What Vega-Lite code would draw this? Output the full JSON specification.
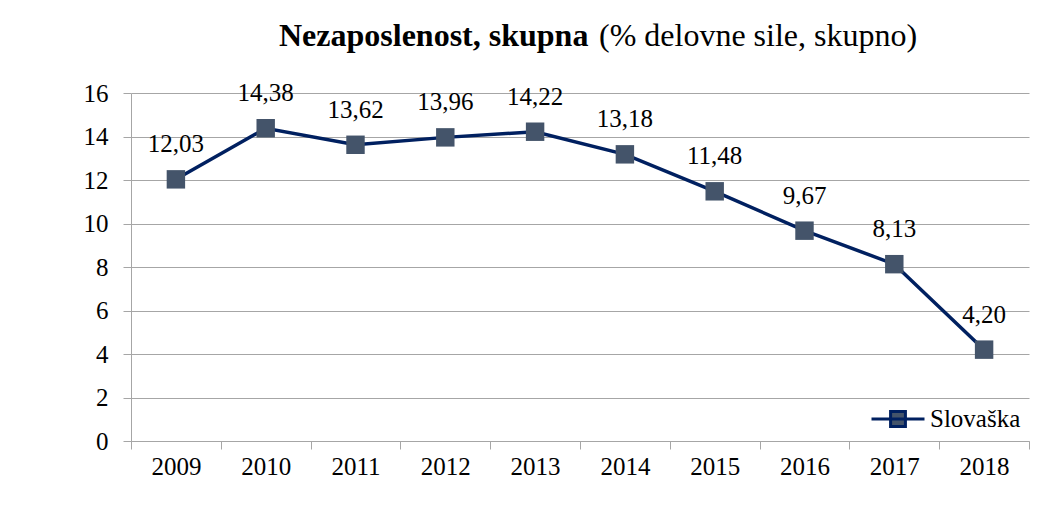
{
  "$schema": "https://vega.github.io/schema/vega-lite/v6.json",
  "width": 898,
  "height": 348,
  "autosize": {"type": "none"},
  "padding": {"left": 131, "top": 93, "right": 14, "bottom": 67},
  "background": "white",
  "config": {
    "font": "Liberation Serif",
    "view": {"stroke": null},
    "locale": {"number": {"decimal": ",", "thousands": ".", "grouping": [3], "currency": ["", " €"]}}
  },
  "title": {
    "text": "Nezaposlenost, skupna",
    "subtitle": "\u200b\u00a0\u00a0\u00a0\u00a0\u00a0\u00a0\u00a0\u00a0\u00a0\u00a0\u00a0\u00a0\u00a0\u00a0\u00a0\u00a0\u00a0\u00a0\u00a0\u00a0\u00a0\u00a0\u00a0\u00a0\u00a0\u00a0\u00a0\u00a0\u00a0\u00a0\u00a0\u00a0\u00a0\u00a0\u00a0\u00a0\u00a0\u00a0\u00a0\u00a0(% delovne sile, skupno)",
    "anchor": "start",
    "frame": "group",
    "dx": 148,
    "font": "Liberation Serif",
    "fontSize": 32,
    "fontWeight": "bold",
    "color": "black",
    "subtitleFont": "Liberation Serif",
    "subtitleFontSize": 32,
    "subtitleFontWeight": "normal",
    "subtitleColor": "black",
    "subtitlePadding": -32,
    "offset": 28
  },
  "data": {
    "values": [
      {"year": "2009", "value": 12.03, "country": "Slovaška"},
      {"year": "2010", "value": 14.38, "country": "Slovaška"},
      {"year": "2011", "value": 13.62, "country": "Slovaška"},
      {"year": "2012", "value": 13.96, "country": "Slovaška"},
      {"year": "2013", "value": 14.22, "country": "Slovaška"},
      {"year": "2014", "value": 13.18, "country": "Slovaška"},
      {"year": "2015", "value": 11.48, "country": "Slovaška"},
      {"year": "2016", "value": 9.67, "country": "Slovaška"},
      {"year": "2017", "value": 8.13, "country": "Slovaška"},
      {"year": "2018", "value": 4.20, "country": "Slovaška"}
    ]
  },
  "encoding": {
    "x": {
      "field": "year",
      "type": "ordinal",
      "scale": {"type": "band", "paddingInner": 0, "paddingOuter": 0},
      "axis": {
        "title": null,
        "tickBand": "extent",
        "ticks": true,
        "tickSize": 8,
        "tickColor": "#a6a6a6",
        "domainColor": "#a6a6a6",
        "grid": false,
        "labelAngle": 0,
        "labelFont": "Liberation Serif",
        "labelFontSize": 25,
        "labelColor": "black",
        "labelPadding": 5
      }
    },
    "y": {
      "field": "value",
      "type": "quantitative",
      "scale": {"domain": [0, 16], "nice": false},
      "axis": {
        "title": null,
        "values": [0, 2, 4, 6, 8, 10, 12, 14, 16],
        "grid": true,
        "gridColor": "#a6a6a6",
        "tickSize": 8,
        "tickColor": "#a6a6a6",
        "domainColor": "#a6a6a6",
        "labelFont": "Liberation Serif",
        "labelFontSize": 25,
        "labelColor": "black",
        "labelPadding": 15
      }
    }
  },
  "layer": [
    {"mark": {"type": "line", "color": "#002060", "strokeWidth": 3.5}},
    {
      "mark": {"type": "point", "shape": "square", "filled": true, "size": 340, "opacity": 1},
      "encoding": {
        "color": {
          "field": "country",
          "type": "nominal",
          "scale": {"range": ["#44546a"]},
          "legend": {
            "orient": "bottom-right",
            "title": null,
            "offset": 8,
            "padding": 0,
            "symbolType": "M-1,0H1M-0.28,-0.28H0.28V0.28H-0.28Z",
            "symbolSize": 2809,
            "symbolStrokeColor": "#002060",
            "symbolStrokeWidth": 3,
            "symbolFillColor": "#44546a",
            "labelFont": "Liberation Serif",
            "labelFontSize": 25,
            "labelColor": "black",
            "labelOffset": 4
          }
        }
      }
    },
    {
      "mark": {"type": "text", "dy": -27, "baseline": "alphabetic", "fontSize": 25, "color": "black", "font": "Liberation Serif"},
      "encoding": {"text": {"field": "value", "type": "quantitative", "format": ".2f"}}
    }
  ]
}
